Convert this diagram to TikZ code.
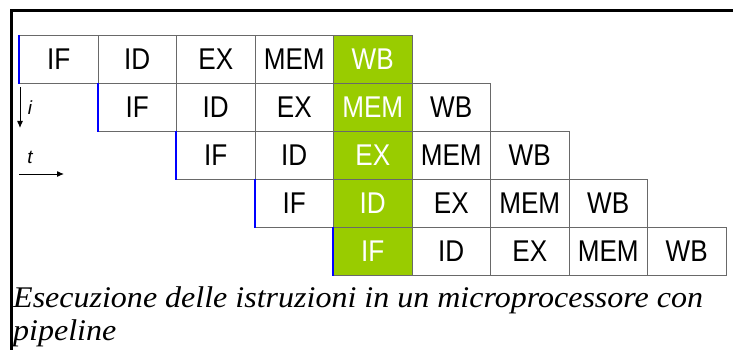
\documentclass[tikz,border=0pt]{standalone}
\usepackage{fontspec}
\setmainfont{Liberation Serif}
\setsansfont{Liberation Sans}
\usetikzlibrary{arrows.meta}
\definecolor{stagegreen}{RGB}{153,204,0}
\definecolor{cellgray}{RGB}{105,105,105}
\newcommand{\cellw}{78.5}
\newcommand{\cellh}{48}
\newcommand{\squeeze}[1]{\scalebox{0.87}[1]{#1}}
\newcommand{\widen}[1]{\scalebox{1.067}[1]{#1}}
\tikzset{
	stage/.style={draw=cellgray, line width=1pt, minimum width=\cellw pt, minimum height=\cellh pt,
		inner sep=0pt, anchor=north west, font=\fontsize{30}{30}\sffamily},
	busy/.style={stage, fill=stagegreen, text=white},
	axislabel/.style={font=\fontsize{19}{19}\sffamily\itshape, inner sep=0pt},
	captionline/.style={anchor=base west, inner sep=0pt, font=\fontsize{30}{30}\selectfont\itshape},
}

\begin{document}
\begin{tikzpicture}[x=1pt,y=-1pt]
	\useasboundingbox (0,0) rectangle (733,350);
	\draw[line width=3pt] (733,10.5) -- (11,10.5) -- (11,350);

	% pipeline rows
	\foreach \r in {0,...,4} {
		\foreach \s [count=\k from 0] in {IF,ID,EX,MEM,WB} {
			\pgfmathtruncatemacro{\col}{\r+\k}
			\def\look{stage}
			\ifnum\col=4 \def\look{busy}\fi
			\node[\look] (s\r-\col) at ({19+\col*\cellw},{35+\r*\cellh}) {\squeeze{\s}};
		}
	}
	\foreach \r in {0,...,4}
		\draw[blue, line width=2pt] (s\r-\r.north west) -- (s\r-\r.south west);

	% axes
	\coordinate (itop) at (20,87);
	\coordinate (ibot) at (20,128);
	\coordinate (tleft) at (19,174);
	\coordinate (tright) at (64,174);
	\draw[line width=1pt, -{Latex[length=7pt,width=6pt]}] (itop) -- (ibot);
	\draw[line width=1pt, -{Latex[length=7pt,width=6pt]}] (tleft) -- (tright);
	\node[axislabel] (ilabel) at (30,108) {i};
	\node[axislabel] (tlabel) at (30,157) {t};

	\node[captionline] (cap1) at (13,307) {\widen{Esecuzione delle istruzioni in un microprocessore con}};
	\node[captionline] (cap2) at (13,340) {\widen{pipeline}};
\end{tikzpicture}
\end{document}
